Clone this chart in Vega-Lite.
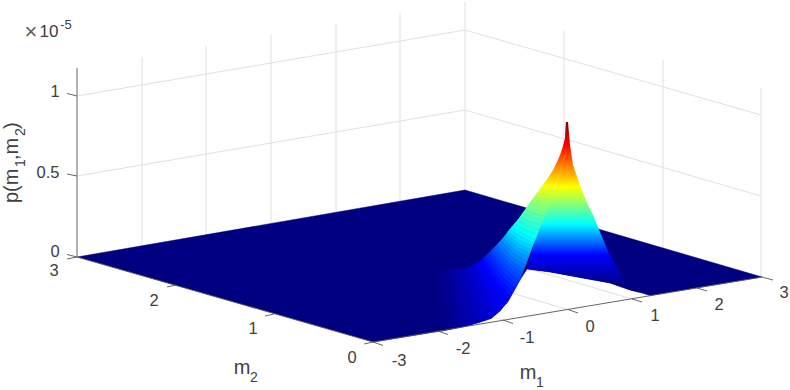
{"$schema":"https://vega.github.io/schema/vega-lite/v6.json","width":790,"height":390,"autosize":{"type":"fit","contains":"padding"},"padding":0,"background":"white","view":{"stroke":null},
"datasets":{
"grid":[
{"x":77,"y":176,"x2":465,"y2":110},{"x":77,"y":96,"x2":465,"y2":30},{"x":465,"y":110,"x2":761,"y2":196},{"x":465,"y":30,"x2":761,"y2":115},
{"x":142,"y":246,"x2":142,"y2":57},{"x":206,"y":235,"x2":206,"y2":46},{"x":271,"y":223,"x2":271,"y2":35},{"x":336,"y":212,"x2":336,"y2":24},{"x":400,"y":201,"x2":400,"y2":13},{"x":465,"y":190,"x2":465,"y2":2},
{"x":564,"y":219,"x2":564,"y2":31},{"x":663,"y":248,"x2":663,"y2":60},{"x":761,"y":277,"x2":761,"y2":88},
{"x":438,"y":331,"x2":142,"y2":246},{"x":503,"y":320,"x2":206,"y2":235},{"x":568,"y":309.5,"x2":271,"y2":223},{"x":632,"y":299,"x2":336,"y2":212},{"x":697,"y":288,"x2":400,"y2":201},
{"x":274,"y":314,"x2":663,"y2":248},{"x":176,"y":285,"x2":564,"y2":219}],
"floor":[{"x":77,"y":257},{"x":465,"y":190},{"x":762,"y":277},{"x":650,"y":295.5},{"x":642,"y":293},{"x":630,"y":290},{"x":610,"y":283},{"x":577,"y":277},{"x":550,"y":272},{"x":527,"y":269},{"x":520,"y":280},{"x":507,"y":303},{"x":492,"y":317},{"x":470,"y":325},{"x":441,"y":331},{"x":373,"y":342}],
"rightFace":[{"x":566,"y":122},{"x":568,"y":122},{"x":570,"y":145},{"x":573,"y":165},{"x":580,"y":185},{"x":588,"y":205},{"x":593,"y":215},{"x":600,"y":232},{"x":605,"y":244},{"x":610,"y":255},{"x":615,"y":264},{"x":620,"y":273},{"x":625,"y":281},{"x":630,"y":287},{"x":636,"y":291},{"x":642,"y":293},{"x":630,"y":290},{"x":610,"y":283},{"x":577,"y":277},{"x":550,"y":272},{"x":527,"y":269},{"x":535,"y":240},{"x":545,"y":213},{"x":555,"y":187},{"x":565,"y":155}],
"lobeTop":[{"x":566,"y":122},{"x":568,"y":122},{"x":567,"y":138},{"x":565,"y":155},{"x":560,"y":172},{"x":555,"y":186},{"x":542,"y":186},{"x":548,"y":178},{"x":553,"y":170},{"x":557,"y":162},{"x":560,"y":155},{"x":563,"y":146},{"x":565,"y":138}],
"bands":[
{"b":1,"p":0.718,"x":542,"y":186},{"b":1,"p":0.718,"x":549,"y":186},{"b":1,"p":0.718,"x":555,"y":186},{"b":1,"p":0.718,"x":553.8,"y":190.5},{"b":1,"p":0.718,"x":547,"y":190},{"b":1,"p":0.718,"x":539.5,"y":189.5},
{"b":2,"p":0.692,"x":539.5,"y":189.5},{"b":2,"p":0.692,"x":547,"y":190},{"b":2,"p":0.692,"x":553.8,"y":190.5},{"b":2,"p":0.692,"x":552.5,"y":195},{"b":2,"p":0.692,"x":545,"y":194},{"b":2,"p":0.692,"x":537,"y":193},
{"b":3,"p":0.664,"x":537,"y":193},{"b":3,"p":0.664,"x":545,"y":194},{"b":3,"p":0.664,"x":552.5,"y":195},{"b":3,"p":0.664,"x":551,"y":199},{"b":3,"p":0.664,"x":543,"y":197.5},{"b":3,"p":0.664,"x":534.8,"y":196},
{"b":4,"p":0.635,"x":534.8,"y":196},{"b":4,"p":0.635,"x":543,"y":197.5},{"b":4,"p":0.635,"x":551,"y":199},{"b":4,"p":0.635,"x":549.5,"y":203},{"b":4,"p":0.635,"x":541,"y":201},{"b":4,"p":0.635,"x":532.5,"y":199},
{"b":5,"p":0.608,"x":532.5,"y":199},{"b":5,"p":0.608,"x":541,"y":201},{"b":5,"p":0.608,"x":549.5,"y":203},{"b":5,"p":0.608,"x":547.8,"y":207.5},{"b":5,"p":0.608,"x":538.8,"y":205.5},{"b":5,"p":0.608,"x":530,"y":202.5},
{"b":6,"p":0.585,"x":530,"y":202.5},{"b":6,"p":0.585,"x":538.8,"y":205.5},{"b":6,"p":0.585,"x":547.8,"y":207.5},{"b":6,"p":0.585,"x":546,"y":212},{"b":6,"p":0.585,"x":536.5,"y":210},{"b":6,"p":0.585,"x":527.5,"y":206},
{"b":7,"p":0.562,"x":527.5,"y":206},{"b":7,"p":0.562,"x":536.5,"y":210},{"b":7,"p":0.562,"x":546,"y":212},{"b":7,"p":0.562,"x":544.5,"y":216},{"b":7,"p":0.562,"x":534.3,"y":213.5},{"b":7,"p":0.562,"x":525,"y":209.5},
{"b":8,"p":0.538,"x":525,"y":209.5},{"b":8,"p":0.538,"x":534.3,"y":213.5},{"b":8,"p":0.538,"x":544.5,"y":216},{"b":8,"p":0.538,"x":543,"y":220},{"b":8,"p":0.538,"x":532,"y":217},{"b":8,"p":0.538,"x":522.5,"y":213},
{"b":9,"p":0.515,"x":522.5,"y":213},{"b":9,"p":0.515,"x":532,"y":217},{"b":9,"p":0.515,"x":543,"y":220},{"b":9,"p":0.515,"x":541.3,"y":224.5},{"b":9,"p":0.515,"x":530,"y":221.5},{"b":9,"p":0.515,"x":520,"y":216.5},
{"b":10,"p":0.491,"x":520,"y":216.5},{"b":10,"p":0.491,"x":530,"y":221.5},{"b":10,"p":0.491,"x":541.3,"y":224.5},{"b":10,"p":0.491,"x":539.5,"y":229},{"b":10,"p":0.491,"x":528,"y":226},{"b":10,"p":0.491,"x":517.5,"y":220},
{"b":11,"p":0.47,"x":517.5,"y":220},{"b":11,"p":0.47,"x":528,"y":226},{"b":11,"p":0.47,"x":539.5,"y":229},{"b":11,"p":0.47,"x":537.3,"y":234.5},{"b":11,"p":0.47,"x":526,"y":230},{"b":11,"p":0.47,"x":514.5,"y":223.5},
{"b":12,"p":0.449,"x":514.5,"y":223.5},{"b":12,"p":0.449,"x":526,"y":230},{"b":12,"p":0.449,"x":537.3,"y":234.5},{"b":12,"p":0.449,"x":535,"y":240},{"b":12,"p":0.449,"x":524,"y":234},{"b":12,"p":0.449,"x":511.5,"y":227},
{"b":13,"p":0.429,"x":511.5,"y":227},{"b":13,"p":0.429,"x":524,"y":234},{"b":13,"p":0.429,"x":535,"y":240},{"b":13,"p":0.429,"x":533.8,"y":243},{"b":13,"p":0.429,"x":522.5,"y":237.5},{"b":13,"p":0.429,"x":509.5,"y":229.5},
{"b":14,"p":0.408,"x":509.5,"y":229.5},{"b":14,"p":0.408,"x":522.5,"y":237.5},{"b":14,"p":0.408,"x":533.8,"y":243},{"b":14,"p":0.408,"x":532.5,"y":246},{"b":14,"p":0.408,"x":521,"y":241},{"b":14,"p":0.408,"x":507.5,"y":232},
{"b":15,"p":0.386,"x":507.5,"y":232},{"b":15,"p":0.386,"x":521,"y":241},{"b":15,"p":0.386,"x":532.5,"y":246},{"b":15,"p":0.386,"x":531.3,"y":249.5},{"b":15,"p":0.386,"x":519.5,"y":244.5},{"b":15,"p":0.386,"x":506,"y":234},
{"b":16,"p":0.363,"x":506,"y":234},{"b":16,"p":0.363,"x":519.5,"y":244.5},{"b":16,"p":0.363,"x":531.3,"y":249.5},{"b":16,"p":0.363,"x":530,"y":253},{"b":16,"p":0.363,"x":518,"y":248},{"b":16,"p":0.363,"x":504.5,"y":236},
{"b":17,"p":0.341,"x":504.5,"y":236},{"b":17,"p":0.341,"x":518,"y":248},{"b":17,"p":0.341,"x":530,"y":253},{"b":17,"p":0.341,"x":528.5,"y":257},{"b":17,"p":0.341,"x":516,"y":251},{"b":17,"p":0.341,"x":502.8,"y":238},
{"b":18,"p":0.321,"x":502.8,"y":238},{"b":18,"p":0.321,"x":516,"y":251},{"b":18,"p":0.321,"x":528.5,"y":257},{"b":18,"p":0.321,"x":527,"y":261},{"b":18,"p":0.321,"x":514,"y":254},{"b":18,"p":0.321,"x":501,"y":240},
{"b":19,"p":0.3,"x":501,"y":240},{"b":19,"p":0.3,"x":514,"y":254},{"b":19,"p":0.3,"x":527,"y":261},{"b":19,"p":0.3,"x":525.5,"y":265},{"b":19,"p":0.3,"x":512,"y":257},{"b":19,"p":0.3,"x":498.8,"y":242.5},
{"b":20,"p":0.28,"x":498.8,"y":242.5},{"b":20,"p":0.28,"x":512,"y":257},{"b":20,"p":0.28,"x":525.5,"y":265},{"b":20,"p":0.28,"x":524,"y":269},{"b":20,"p":0.28,"x":510,"y":260},{"b":20,"p":0.28,"x":496.5,"y":245},
{"b":21,"p":0.26,"x":496.5,"y":245},{"b":21,"p":0.26,"x":510,"y":260},{"b":21,"p":0.26,"x":524,"y":269},{"b":21,"p":0.26,"x":522.5,"y":273},{"b":21,"p":0.26,"x":508.5,"y":263},{"b":21,"p":0.26,"x":494.5,"y":247},
{"b":22,"p":0.243,"x":494.5,"y":247},{"b":22,"p":0.243,"x":508.5,"y":263},{"b":22,"p":0.243,"x":522.5,"y":273},{"b":22,"p":0.243,"x":521,"y":277},{"b":22,"p":0.243,"x":507,"y":266},{"b":22,"p":0.243,"x":492.5,"y":249},
{"b":23,"p":0.225,"x":492.5,"y":249},{"b":23,"p":0.225,"x":507,"y":266},{"b":23,"p":0.225,"x":521,"y":277},{"b":23,"p":0.225,"x":519,"y":281},{"b":23,"p":0.225,"x":505,"y":269},{"b":23,"p":0.225,"x":490.5,"y":251},
{"b":24,"p":0.208,"x":490.5,"y":251},{"b":24,"p":0.208,"x":505,"y":269},{"b":24,"p":0.208,"x":519,"y":281},{"b":24,"p":0.208,"x":517,"y":285},{"b":24,"p":0.208,"x":503,"y":272},{"b":24,"p":0.208,"x":488.5,"y":253},
{"b":25,"p":0.192,"x":488.5,"y":253},{"b":25,"p":0.192,"x":503,"y":272},{"b":25,"p":0.192,"x":517,"y":285},{"b":25,"p":0.192,"x":514.8,"y":289},{"b":25,"p":0.192,"x":500.5,"y":274.5},{"b":25,"p":0.192,"x":486.5,"y":255},
{"b":26,"p":0.177,"x":486.5,"y":255},{"b":26,"p":0.177,"x":500.5,"y":274.5},{"b":26,"p":0.177,"x":514.8,"y":289},{"b":26,"p":0.177,"x":512.5,"y":293},{"b":26,"p":0.177,"x":498,"y":277},{"b":26,"p":0.177,"x":484.5,"y":257},
{"b":27,"p":0.164,"x":484.5,"y":257},{"b":27,"p":0.164,"x":498,"y":277},{"b":27,"p":0.164,"x":512.5,"y":293},{"b":27,"p":0.164,"x":510.3,"y":297},{"b":27,"p":0.164,"x":496,"y":279.5},{"b":27,"p":0.164,"x":482.8,"y":258.5},
{"b":28,"p":0.152,"x":482.8,"y":258.5},{"b":28,"p":0.152,"x":496,"y":279.5},{"b":28,"p":0.152,"x":510.3,"y":297},{"b":28,"p":0.152,"x":508,"y":301},{"b":28,"p":0.152,"x":494,"y":282},{"b":28,"p":0.152,"x":481,"y":260},
{"b":29,"p":0.139,"x":481,"y":260},{"b":29,"p":0.139,"x":494,"y":282},{"b":29,"p":0.139,"x":508,"y":301},{"b":29,"p":0.139,"x":504,"y":306},{"b":29,"p":0.139,"x":491,"y":285},{"b":29,"p":0.139,"x":478.5,"y":261.5},
{"b":30,"p":0.125,"x":478.5,"y":261.5},{"b":30,"p":0.125,"x":491,"y":285},{"b":30,"p":0.125,"x":504,"y":306},{"b":30,"p":0.125,"x":500,"y":311},{"b":30,"p":0.125,"x":488,"y":288},{"b":30,"p":0.125,"x":476,"y":263},
{"b":31,"p":0.111,"x":476,"y":263},{"b":31,"p":0.111,"x":488,"y":288},{"b":31,"p":0.111,"x":500,"y":311},{"b":31,"p":0.111,"x":495.5,"y":314.8},{"b":31,"p":0.111,"x":484.5,"y":290.5},{"b":31,"p":0.111,"x":474,"y":264.5},
{"b":32,"p":0.099,"x":474,"y":264.5},{"b":32,"p":0.099,"x":484.5,"y":290.5},{"b":32,"p":0.099,"x":495.5,"y":314.8},{"b":32,"p":0.099,"x":491,"y":318.5},{"b":32,"p":0.099,"x":481,"y":293},{"b":32,"p":0.099,"x":472,"y":266},
{"b":33,"p":0.088,"x":472,"y":266},{"b":33,"p":0.088,"x":481,"y":293},{"b":33,"p":0.088,"x":491,"y":318.5},{"b":33,"p":0.088,"x":485,"y":320.5},{"b":33,"p":0.088,"x":476,"y":295},{"b":33,"p":0.088,"x":468.5,"y":267},
{"b":34,"p":0.076,"x":468.5,"y":267},{"b":34,"p":0.076,"x":476,"y":295},{"b":34,"p":0.076,"x":485,"y":320.5},{"b":34,"p":0.076,"x":479,"y":322.5},{"b":34,"p":0.076,"x":471,"y":297},{"b":34,"p":0.076,"x":465,"y":268},
{"b":35,"p":0.064,"x":465,"y":268},{"b":35,"p":0.064,"x":471,"y":297},{"b":35,"p":0.064,"x":479,"y":322.5},{"b":35,"p":0.064,"x":472.5,"y":324.3},{"b":35,"p":0.064,"x":466,"y":298},{"b":35,"p":0.064,"x":460.5,"y":268.5},
{"b":36,"p":0.053,"x":460.5,"y":268.5},{"b":36,"p":0.053,"x":466,"y":298},{"b":36,"p":0.053,"x":472.5,"y":324.3},{"b":36,"p":0.053,"x":466,"y":326},{"b":36,"p":0.053,"x":461,"y":299},{"b":36,"p":0.053,"x":456,"y":269},
{"b":37,"p":0.041,"x":456,"y":269},{"b":37,"p":0.041,"x":461,"y":299},{"b":37,"p":0.041,"x":466,"y":326},{"b":37,"p":0.041,"x":460,"y":327.3},{"b":37,"p":0.041,"x":455.5,"y":299.5},{"b":37,"p":0.041,"x":450.5,"y":269.3},
{"b":38,"p":0.029,"x":450.5,"y":269.3},{"b":38,"p":0.029,"x":455.5,"y":299.5},{"b":38,"p":0.029,"x":460,"y":327.3},{"b":38,"p":0.029,"x":454,"y":328.5},{"b":38,"p":0.029,"x":450,"y":300},{"b":38,"p":0.029,"x":445,"y":269.5},
{"b":39,"p":0.018,"x":445,"y":269.5},{"b":39,"p":0.018,"x":450,"y":300},{"b":39,"p":0.018,"x":454,"y":328.5},{"b":39,"p":0.018,"x":447.5,"y":329.8},{"b":39,"p":0.018,"x":443.5,"y":300},{"b":39,"p":0.018,"x":439.5,"y":269.8},
{"b":40,"p":0.006,"x":439.5,"y":269.8},{"b":40,"p":0.006,"x":443.5,"y":300},{"b":40,"p":0.006,"x":447.5,"y":329.8},{"b":40,"p":0.006,"x":441,"y":331},{"b":40,"p":0.006,"x":437,"y":300},{"b":40,"p":0.006,"x":434,"y":270}],
"axes":[
{"x":77,"y":68,"x2":77,"y2":257},{"x":77,"y":257,"x2":373,"y2":342},{"x":373,"y":342,"x2":762,"y2":277},
{"x":67,"y":93.5,"x2":77,"y2":96},{"x":67,"y":174,"x2":77,"y2":176},{"x":67,"y":254.5,"x2":77,"y2":257},
{"x":67,"y":259,"x2":77,"y2":257},{"x":167,"y":287,"x2":176,"y2":285},{"x":265,"y":316,"x2":274,"y2":314},{"x":364,"y":344,"x2":373,"y2":342},
{"x":373,"y":342,"x2":383,"y2":345.5},{"x":438,"y":331,"x2":448,"y2":334.5},{"x":503,"y":320,"x2":513,"y2":323.5},{"x":568,"y":309.5,"x2":578,"y2":313},{"x":632,"y":299,"x2":642,"y2":302},{"x":697,"y":288,"x2":707,"y2":291},{"x":762,"y":277,"x2":773,"y2":280}],
"ticks":[
{"t":"-3","x":399,"y":361},{"t":"-2","x":463,"y":349},{"t":"-1","x":527,"y":338},{"t":"0","x":590,"y":327},{"t":"1","x":655,"y":316},{"t":"2","x":719,"y":305},{"t":"3","x":784,"y":293},
{"t":"0","x":352,"y":358},{"t":"1","x":253,"y":329},{"t":"2","x":154,"y":301},{"t":"3","x":54,"y":271},
{"t":"1","x":55,"y":92},{"t":"0.5","x":48,"y":173},{"t":"0","x":55,"y":252}]
},
"encoding":{"x":{"field":"x","type":"quantitative","scale":{"domain":[0,790],"nice":false,"zero":false},"axis":null},"y":{"field":"y","type":"quantitative","scale":{"domain":[390,0],"nice":false,"zero":false},"axis":null}},
"layer":[
{"data":{"name":"grid"},"mark":{"type":"rule","stroke":"#e0e0e0","strokeWidth":1},"encoding":{"x2":{"field":"x2"},"y2":{"field":"y2"}}},
{"data":{"name":"floor"},"transform":[{"window":[{"op":"row_number","as":"i"}]}],"mark":{"type":"line","fill":"#000080","stroke":"#000080","strokeWidth":0.5},"encoding":{"order":{"field":"i","type":"quantitative"}}},
{"data":{"name":"rightFace"},"transform":[{"window":[{"op":"row_number","as":"i"}]}],"mark":{"type":"line","strokeWidth":0,"fill":{"gradient":"linear","x1":0,"y1":0,"x2":0,"y2":1,"stops":[{"offset":0,"color":"#800000"},{"offset":0.135,"color":"#ff0000"},{"offset":0.38,"color":"#ffff00"},{"offset":0.596,"color":"#00ffff"},{"offset":0.778,"color":"#0000ff"},{"offset":0.953,"color":"#000080"},{"offset":1,"color":"#000080"}]}},"encoding":{"order":{"field":"i","type":"quantitative"}}},
{"data":{"name":"bands"},"transform":[{"window":[{"op":"row_number","as":"i"}],"groupby":["b"]}],"mark":{"type":"line","strokeWidth":0.7},"encoding":{"detail":{"field":"b"},"order":{"field":"i","type":"quantitative"},
"fill":{"field":"p","type":"quantitative","legend":null,"scale":{"domain":[0,0.146,0.439,0.731,1.024,1.17],"range":["#000080","#0000ff","#00ffff","#ffff00","#ff0000","#800000"],"interpolate":"rgb"}},
"stroke":{"field":"p","type":"quantitative","legend":null,"scale":{"domain":[0,0.146,0.439,0.731,1.024,1.17],"range":["#000080","#0000ff","#00ffff","#ffff00","#ff0000","#800000"],"interpolate":"rgb"}}}},
{"data":{"name":"lobeTop"},"transform":[{"window":[{"op":"row_number","as":"i"}]}],"mark":{"type":"line","strokeWidth":0,"fill":{"gradient":"linear","x1":0,"y1":0,"x2":0,"y2":1,"stops":[{"offset":0,"color":"#800000"},{"offset":0.36,"color":"#ff0000"},{"offset":1,"color":"#ffff00"}]}},"encoding":{"order":{"field":"i","type":"quantitative"}}},
{"data":{"name":"axes"},"mark":{"type":"rule","stroke":"#555555","strokeWidth":0.9},"encoding":{"x2":{"field":"x2"},"y2":{"field":"y2"}}},
{"data":{"name":"ticks"},"mark":{"type":"text","font":"Liberation Sans","fontSize":16.5,"fill":"#404040","align":"center","baseline":"middle"},"encoding":{"text":{"field":"t"}}},
{"data":{"values":[{"t":"m","x":242,"y":368},{"t":"m","x":528,"y":373}]},"mark":{"type":"text","font":"Liberation Sans","fontSize":20,"fill":"#404040","align":"center","baseline":"middle"},"encoding":{"text":{"field":"t"}}},
{"data":{"values":[{"t":"2","x":254,"y":378},{"t":"1","x":540,"y":383}]},"mark":{"type":"text","font":"Liberation Sans","fontSize":14,"fill":"#404040","align":"center","baseline":"middle"},"encoding":{"text":{"field":"t"}}},
{"data":{"values":[{"t":"p(m","x":18,"y":203},{"t":",m","x":18,"y":160},{"t":")","x":18,"y":129}]},"mark":{"type":"text","font":"Liberation Sans","fontSize":20,"fill":"#404040","align":"left","baseline":"alphabetic","angle":270},"encoding":{"text":{"field":"t"}}},
{"data":{"values":[{"t":"1","x":25,"y":167},{"t":"2","x":25,"y":136}]},"mark":{"type":"text","font":"Liberation Sans","fontSize":14,"fill":"#404040","align":"left","baseline":"alphabetic","angle":270},"encoding":{"text":{"field":"t"}}},
{"data":{"values":[{"t":"×","x":31,"y":32}]},"mark":{"type":"text","font":"Liberation Sans","fontSize":22,"fill":"#606060","align":"center","baseline":"middle"},"encoding":{"text":{"field":"t"}}},
{"data":{"values":[{"t":"10","x":49,"y":32}]},"mark":{"type":"text","font":"Liberation Sans","fontSize":17,"fill":"#404040","align":"center","baseline":"middle"},"encoding":{"text":{"field":"t"}}},
{"data":{"values":[{"t":"-5","x":66,"y":25}]},"mark":{"type":"text","font":"Liberation Sans","fontSize":13,"fill":"#404040","align":"center","baseline":"middle"},"encoding":{"text":{"field":"t"}}}
]}
